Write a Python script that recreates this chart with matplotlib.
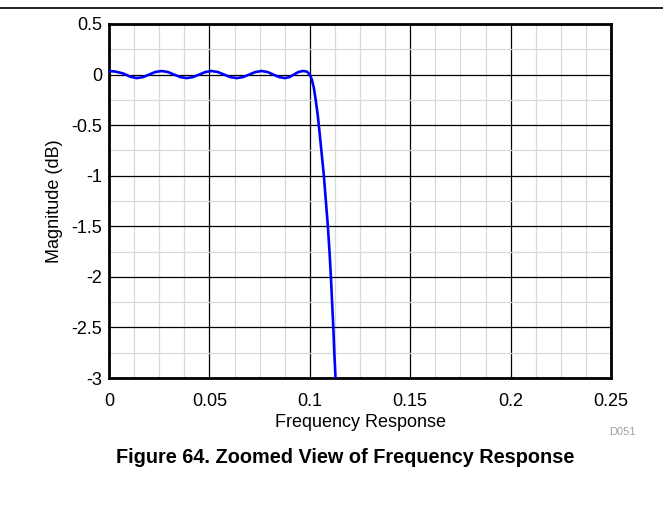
import numpy as np
import matplotlib.pyplot as plt
from matplotlib.ticker import MultipleLocator

plt.rcParams['font.family'] = ['Liberation Sans', 'DejaVu Sans']

# frequency (normalised) and magnitude (dB)
freq = [0.0, 0.003, 0.0069, 0.0107, 0.0138, 0.017, 0.020, 0.023, 0.0262,
        0.0293, 0.0324, 0.0355, 0.0387, 0.0418, 0.0449, 0.048, 0.0511,
        0.0542, 0.0573, 0.0604, 0.0636, 0.0667, 0.0698, 0.0729, 0.076,
        0.079, 0.0818, 0.0847, 0.0876, 0.0899, 0.0921, 0.0943, 0.0965,
        0.0985, 0.1, 0.101, 0.102, 0.103, 0.104, 0.105, 0.106, 0.107,
        0.108, 0.109, 0.1098, 0.1105, 0.1111, 0.1117, 0.1122, 0.1128]
mag_db = [0.035, 0.03, 0.012, -0.022, -0.035, -0.025, 0.0, 0.025, 0.035,
          0.025, 0.0, -0.025, -0.035, -0.025, 0.0, 0.025, 0.035,
          0.025, 0.0, -0.025, -0.035, -0.025, 0.0, 0.025, 0.035,
          0.025, 0.0, -0.025, -0.035, -0.025, 0.0, 0.025, 0.035,
          0.03, 0.0, -0.05, -0.13, -0.26, -0.41, -0.6, -0.8, -1.0,
          -1.25, -1.5, -1.75, -2.0, -2.25, -2.5, -2.75, -3.0]

x_ticks = [0, 0.05, 0.1, 0.15, 0.2, 0.25]
x_labels = ['0', '0.05', '0.1', '0.15', '0.2', '0.25']
y_ticks = [0.5, 0, -0.5, -1, -1.5, -2, -2.5, -3]
y_labels = ['0.5', '0', '-0.5', '-1', '-1.5', '-2', '-2.5', '-3']

fig = plt.figure(figsize=(6.63, 5.08), dpi=100)
ax = fig.add_axes([0.1644, 0.2559, 0.7572, 0.6969])

ax.plot(freq, mag_db, color='#0000ff', lw=1.9, zorder=3)

ax.set_xlim(0, 0.25)
ax.set_ylim(-3, 0.5)
ax.xaxis.set_minor_locator(MultipleLocator(0.0125))
ax.yaxis.set_minor_locator(MultipleLocator(0.25))
ax.set_xticks(x_ticks)
ax.set_xticklabels(x_labels)
ax.set_yticks(y_ticks)
ax.set_yticklabels(y_labels)

ax.grid(which='major', color='black', lw=0.9)
ax.grid(which='minor', color='#d9d9d9', lw=0.9)
ax.set_axisbelow(True)
ax.tick_params(which='both', length=0, labelsize=13)
ax.tick_params(axis='x', pad=11)
ax.tick_params(axis='y', pad=5)
for s in ax.spines.values():
    s.set_linewidth(2)

ax.set_xlabel('Frequency Response', fontsize=13, labelpad=3)
ax.set_ylabel('Magnitude (dB)', fontsize=13, labelpad=6)

fig.text(0.959, 0.149, 'D051', fontsize=8, color='#a0a0a0', ha='right', va='center')
fig.text(0.52, 0.1, 'Figure 64. Zoomed View of Frequency Response',
         fontsize=14.3, fontweight='bold', ha='center', va='center')
fig.add_artist(plt.Line2D([0, 1], [1 - 8 / 508, 1 - 8 / 508], color='black', lw=1.2,
                          transform=fig.transFigure))

fig.savefig('out.png', dpi=100)
